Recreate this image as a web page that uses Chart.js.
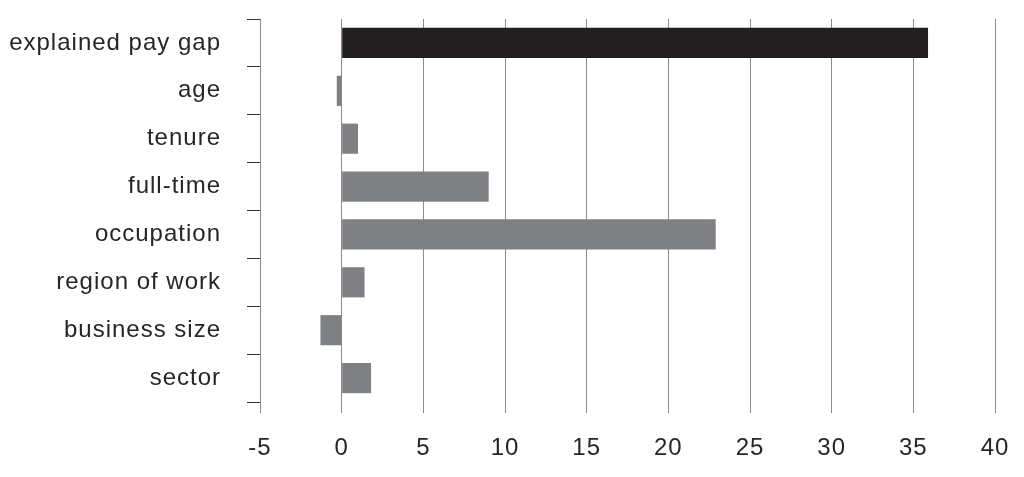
<!DOCTYPE html>
<html>
<head>
<meta charset="utf-8">
<script src="https://cdn.jsdelivr.net/npm/chart.js@4/dist/chart.umd.min.js"></script>
<style>
  html, body { margin: 0; padding: 0; background: #ffffff; }
  #wrap { width: 1024px; height: 477px; position: relative; }
</style>
</head>
<body>
<div id="wrap"><canvas id="c" width="1024" height="477"></canvas></div>
<script>
const categories = ["explained pay gap", "age", "tenure", "full-time", "occupation", "region of work", "business size", "sector"];
const values = [35.9, -0.3, 1.0, 9.0, 22.9, 1.4, -1.3, 1.8];
const xMin = -5;
const xMax = 40;
const xStep = 5;

const textColor = '#262626';
const gridColor = '#8a8a8a';

const letterSpacingPlugin = {
  id: 'letterSpacing',
  beforeDraw(chart) {
    chart.ctx.letterSpacing = '1px';
  }
};

new Chart(document.getElementById('c'), {
  type: 'bar',
  data: {
    labels: categories,
    datasets: [{
      data: values,
      backgroundColor: (ctx) => ctx.dataIndex === 0 ? '#231f20' : '#7f8083',
      borderWidth: 0,
      categoryPercentage: 1.0,
      barPercentage: 0.63
    }]
  },
  options: {
    indexAxis: 'y',
    responsive: false,
    animation: false,
    devicePixelRatio: 1,
    layout: { padding: { top: 19, right: 29, left: 0, bottom: 0 } },
    plugins: { legend: { display: false }, tooltip: { enabled: false } },
    scales: {
      x: {
        type: 'linear',
        min: xMin,
        max: xMax,
        ticks: {
          stepSize: xStep,
          color: textColor,
          font: { family: 'Liberation Sans, Arial, sans-serif', size: 24 },
          padding: 21,
          maxRotation: 0
        },
        grid: {
          color: gridColor,
          lineWidth: 1,
          drawOnChartArea: true,
          drawTicks: true,
          tickLength: 11
        },
        border: { display: false },
        afterFit(scale) {
          scale.height = 75;
          scale.paddingLeft = 0; scale.paddingRight = 0;
          scale.paddingTop = 0; scale.paddingBottom = 0;
        }
      },
      y: {
        type: 'category',
        offset: true,
        ticks: {
          color: textColor,
          font: { family: 'Liberation Sans, Arial, sans-serif', size: 24 },
          padding: 26,
          crossAlign: 'near'
        },
        grid: {
          offset: true,
          drawOnChartArea: false,
          drawTicks: true,
          tickLength: 13,
          color: '#333333',
          lineWidth: 1
        },
        border: { display: true, color: gridColor, width: 1 },
        afterFit(scale) {
          scale.width = 260;
          scale.paddingTop = 0; scale.paddingBottom = 0;
          scale.paddingLeft = 0; scale.paddingRight = 0;
        }
      }
    }
  },
  plugins: [letterSpacingPlugin]
});
</script>
</body>
</html>
